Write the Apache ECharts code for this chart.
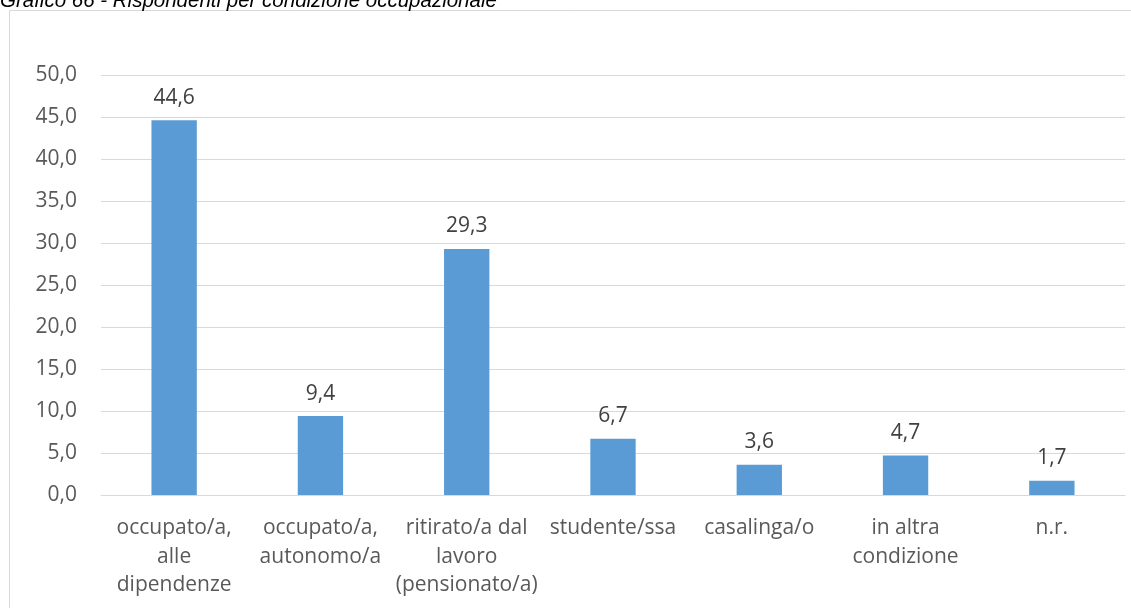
<!DOCTYPE html>
<html style="height: 100%">
<head>
<meta charset="utf-8" />
<title>Grafico 66</title>
</head>
<body style="height: 100%; margin: 0; background: #fff">
<div id="container" style="width: 1131px; height: 608px"></div>
<script type="text/javascript" src="https://cdn.jsdelivr.net/npm/echarts@6/dist/echarts.min.js"></script>
<script type="text/javascript">
var categories = ['occupato/a,\nalle\ndipendenze', 'occupato/a,\nautonomo/a', 'ritirato/a dal\nlavoro\n(pensionato/a)',
    'studente/ssa', 'casalinga/o', 'in altra\ncondizione', 'n.r.'];
var values = [44.6, 9.4, 29.3, 6.7, 3.6, 4.7, 1.7];
var titleText = 'Grafico 66 - Rispondenti per condizione occupazionale';

// formato italiano con una cifra decimale
function fmt(v) {
    return v.toFixed(1).replace('.', ',');
}

var dom = document.getElementById('container');
var myChart = echarts.init(dom);
var option = {
    animation: false,
    textStyle: { fontFamily: '"Open Sans", "Noto Sans", sans-serif' },
    graphic: [
        {
            type: 'rect',
            shape: { x: 9.5, y: 10.5, width: 1140, height: 620 },
            style: { fill: '#fff', stroke: '#d9d9d9', lineWidth: 1 },
            z: -10
        },
        {
            type: 'text',
            left: 0,
            top: -9,
            style: {
                text: titleText,
                fill: '#000',
                font: 'italic 20.5px "Liberation Sans", Arial, sans-serif'
            }
        }
    ],
    grid: { left: 101, right: 6, top: 75, bottom: 113, containLabel: false },
    xAxis: {
        type: 'category',
        data: categories,
        axisLine: { lineStyle: { color: '#d9d9d9', width: 1 } },
        axisTick: { show: false },
        axisLabel: { color: '#595959', fontSize: 21, lineHeight: 28.5, margin: 19, interval: 0 }
    },
    yAxis: {
        type: 'value',
        min: 0,
        max: 50,
        interval: 5,
        axisLine: { show: false },
        axisTick: { show: false },
        splitLine: { lineStyle: { color: '#d9d9d9', width: 1 } },
        axisLabel: {
            color: '#595959', fontSize: 21, margin: 24,
            formatter: fmt
        }
    },
    series: [{
        type: 'bar',
        data: values,
        barWidth: '31%',
        itemStyle: { color: '#5b9bd5' },
        label: {
            show: true,
            position: 'top',
            distance: 12,
            color: '#404040',
            fontSize: 21,
            formatter: function (p) { return fmt(p.value); }
        }
    }]
};
myChart.setOption(option);
</script>
</body>
</html>
